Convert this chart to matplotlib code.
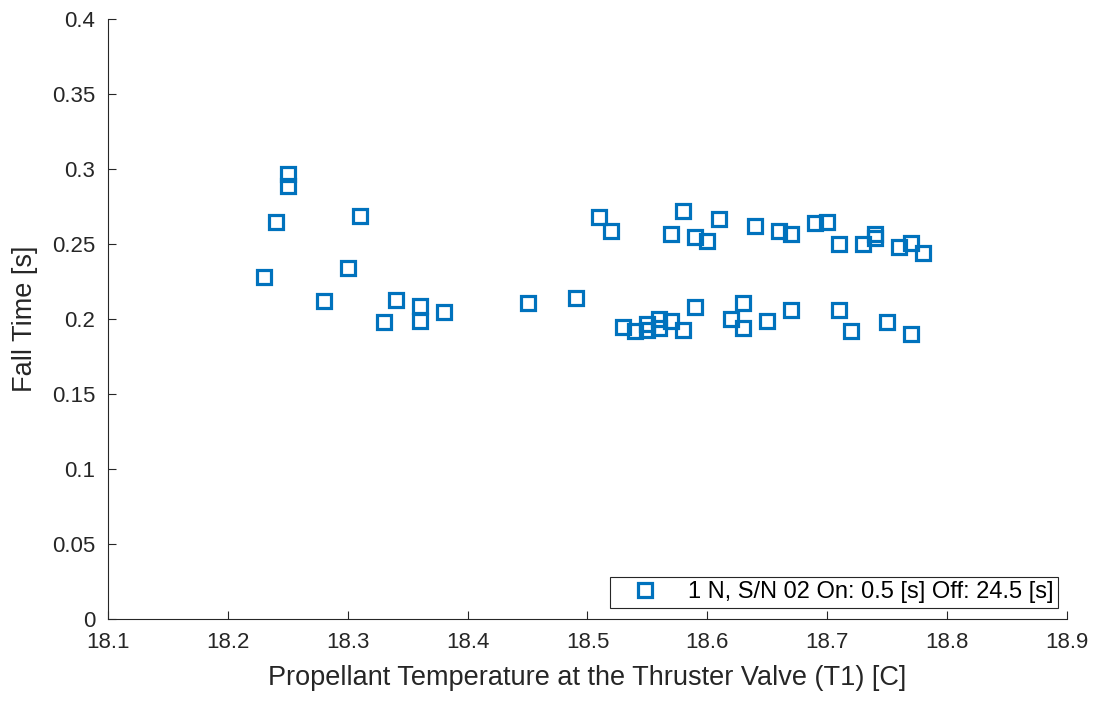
import numpy as np
import matplotlib
matplotlib.use('agg')
import matplotlib.pyplot as plt

# propellant temperature [C] and fall time [s]
temp_c = [18.23, 18.24, 18.25, 18.25, 18.28, 18.30, 18.31, 18.33, 18.34, 18.36,
          18.36, 18.38, 18.45, 18.49, 18.51, 18.52, 18.53, 18.54, 18.55, 18.55,
          18.56, 18.56, 18.57, 18.57, 18.58, 18.58, 18.59, 18.59, 18.60, 18.61,
          18.62, 18.63, 18.63, 18.64, 18.65, 18.66, 18.67, 18.67, 18.69, 18.70,
          18.71, 18.71, 18.72, 18.73, 18.74, 18.74, 18.75, 18.76, 18.77, 18.77,
          18.78]
fall_time = [0.228, 0.265, 0.297, 0.289, 0.212, 0.234, 0.269, 0.198, 0.213, 0.209,
             0.199, 0.205, 0.211, 0.214, 0.268, 0.259, 0.195, 0.192, 0.197, 0.193,
             0.200, 0.194, 0.257, 0.199, 0.272, 0.193, 0.255, 0.208, 0.252, 0.267,
             0.200, 0.211, 0.194, 0.262, 0.199, 0.259, 0.257, 0.206, 0.264, 0.265,
             0.250, 0.206, 0.192, 0.250, 0.257, 0.254, 0.198, 0.248, 0.251, 0.190,
             0.244]
series_label = "1 N, S/N 02 On: 0.5 [s] Off: 24.5 [s]"

xticks = np.round(np.arange(18.1, 18.91, 0.1), 1)
yticks = np.round(np.arange(0, 0.401, 0.05), 2)

plt.rcParams['font.family'] = ['Liberation Sans', 'DejaVu Sans']
axcol = '#262626'

fig = plt.figure(figsize=(11.04, 7.02), dpi=100)
ax = fig.add_axes([0.0978, 0.1182, 0.8687, 0.8547])

ax.plot(temp_c, fall_time, linestyle='none', marker='s', markersize=9.5,
        markerfacecolor='none', markeredgecolor='#0072BD', markeredgewidth=2.3,
        label=series_label)

ax.set_xlim(18.1, 18.9)
ax.set_ylim(0, 0.4)
ax.set_xticks(xticks)
ax.set_xticklabels([f"{v:g}" for v in xticks])
ax.set_yticks(yticks)
ax.set_yticklabels([f"{v:g}" for v in yticks])
ax.tick_params(direction='in', length=6, width=0.8, colors=axcol, labelsize=16)
ax.tick_params(axis='x', pad=9)
ax.tick_params(axis='y', pad=9)

ax.spines['top'].set_visible(False)
ax.spines['right'].set_visible(False)
ax.spines['left'].set_color(axcol)
ax.spines['bottom'].set_color(axcol)

ax.set_xlabel("Propellant Temperature at the Thruster Valve (T1) [C]", fontsize=19.5,
              color=axcol, labelpad=9)
ax.set_ylabel("Fall Time [s]", fontsize=19.5, color=axcol, labelpad=10)

leg = ax.legend(loc='lower right', bbox_to_anchor=(0.9906, 0.0183), fontsize=17,
                fancybox=False, framealpha=1, edgecolor=axcol, borderpad=0.2,
                handlelength=2.6, handletextpad=0.5, borderaxespad=0)
leg.get_frame().set_linewidth(0.8)

plt.savefig("out.png", dpi=100)
